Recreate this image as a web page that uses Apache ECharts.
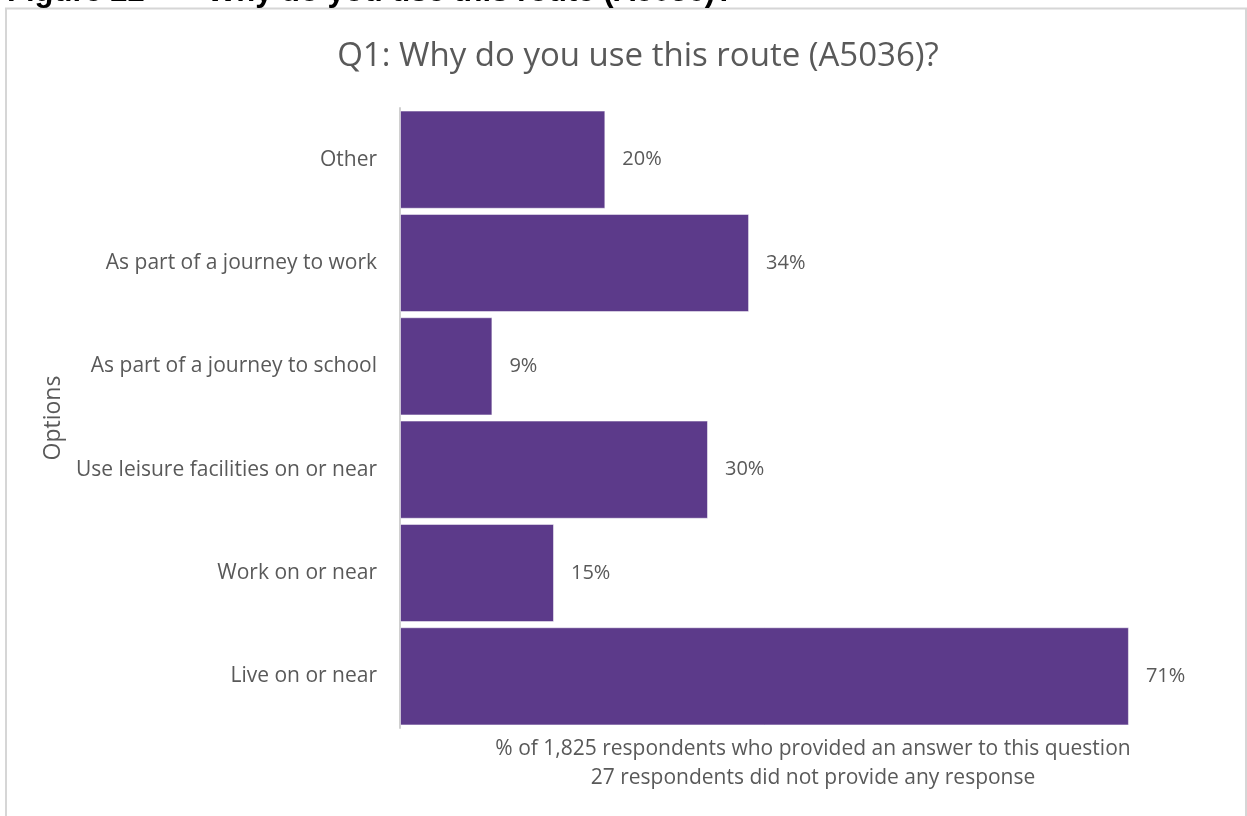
<!DOCTYPE html>
<html>
<head>
<meta charset="utf-8">
<script src="https://cdn.jsdelivr.net/npm/echarts@6/dist/echarts.min.js"></script>
<style>
  html, body { margin: 0; padding: 0; background: #fff; }
  #chart { width: 1247px; height: 816px; }
</style>
</head>
<body>
<div id="chart"></div>
<script>
// Survey options, listed bottom to top
var categories = [
  'Live on or near',
  'Work on or near',
  'Use leisure facilities on or near',
  'As part of a journey to school',
  'As part of a journey to work',
  'Other'
];
// Share of respondents choosing each option (%)
var values = [71, 15, 30, 9, 34, 20];

var figureTitle = ['Figure 22', '\u2013', 'Why do you use this route (A5036)?'];
var chartTitle = 'Q1: Why do you use this route (A5036)?';
var xAxisNote = '% of 1,825 respondents who provided an answer to this question\n27 respondents did not provide any response';
var yAxisName = 'Options';

var textColor = '#595959';
var font = '"Open Sans", Lato, sans-serif';
var headFont = 'bold 31px "Liberation Sans", Arial, sans-serif';

var chart = echarts.init(document.getElementById('chart'));
chart.setOption({
  animation: false,
  backgroundColor: '#fff',
  title: {
    text: chartTitle,
    left: 633,
    textAlign: 'center',
    top: 35,
    textStyle: { color: textColor, fontFamily: font, fontWeight: 'normal', fontSize: 33 }
  },
  grid: { left: 400, right: 77, top: 108, bottom: 88 },
  xAxis: {
    type: 'value',
    min: 0,
    max: 75,
    show: false
  },
  yAxis: {
    type: 'category',
    data: categories,
    name: yAxisName,
    nameLocation: 'middle',
    nameRotate: 90,
    nameGap: 333,
    nameTextStyle: { color: textColor, fontFamily: font, fontSize: 23 },
    axisLine: { show: true, lineStyle: { color: '#d0d0d0', width: 2 } },
    axisTick: { show: false },
    axisLabel: { color: textColor, fontFamily: font, fontSize: 21, margin: 23 },
    splitLine: { show: false }
  },
  series: [{
    type: 'bar',
    data: values,
    barCategoryGap: '5%',
    itemStyle: { color: '#5c3a8a', borderColor: 'rgba(255,255,255,0.5)', borderWidth: 1 },
    label: {
      show: true,
      position: 'right',
      distance: 17,
      formatter: '{c}%',
      color: textColor,
      fontFamily: font,
      fontSize: 20
    }
  }],
  graphic: [
    {
      type: 'rect',
      shape: { x: 6, y: 8.5, width: 1240, height: 830 },
      style: { fill: 'none', stroke: '#d6d6d6', lineWidth: 2 },
      silent: true
    },
    { type: 'text', x: 7, y: -23, style: { text: figureTitle[0], fill: '#000', font: headFont } },
    { type: 'text', x: 173, y: -23, style: { text: figureTitle[1], fill: '#000', font: headFont } },
    { type: 'text', x: 207, y: -23, style: { text: figureTitle[2], fill: '#000', font: headFont } },
    {
      type: 'text', x: 813, y: 735,
      style: {
        text: xAxisNote, fill: textColor, textAlign: 'center',
        font: '21px ' + font, lineHeight: 29
      }
    }
  ]
});
</script>
</body>
</html>
